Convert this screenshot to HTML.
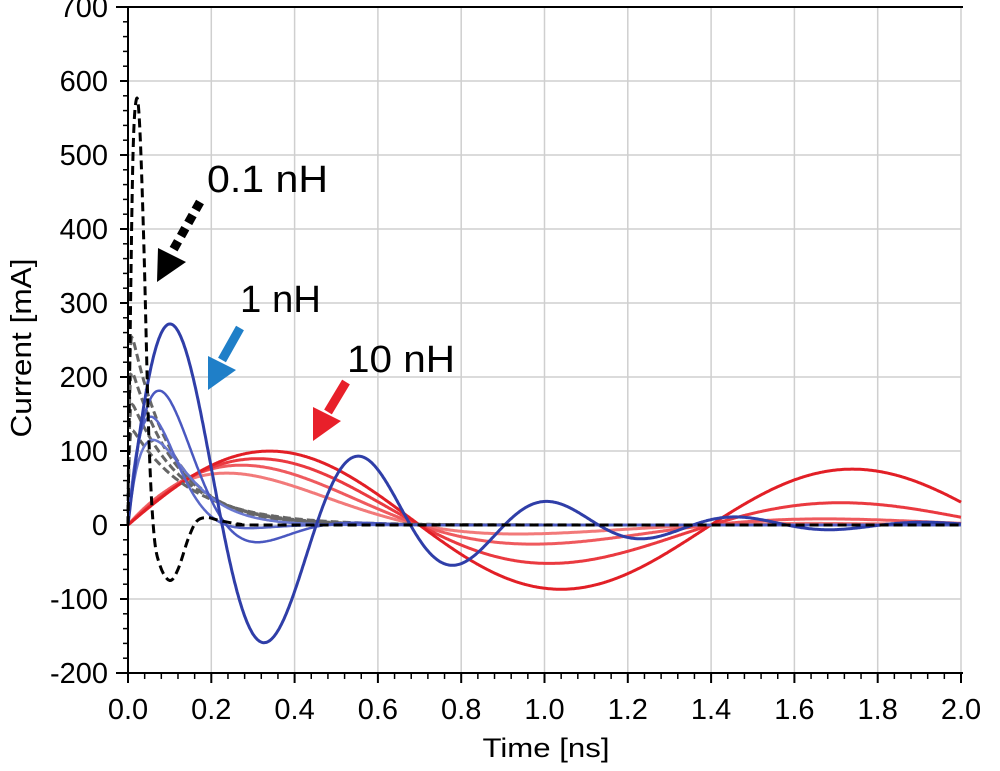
<!DOCTYPE html>
<html><head><meta charset="utf-8"><style>
html,body{margin:0;padding:0;background:#fff;}
svg{display:block;font-family:"Liberation Sans",Arial,sans-serif;}
</style></head><body>
<svg id="s" width="1000" height="771" viewBox="0 0 1000 771" xmlns="http://www.w3.org/2000/svg">
<g id="grid" stroke="#cfcfcf" stroke-width="1.5"></g>
<g id="curves" fill="none"></g>
<g id="axes" stroke="#000" stroke-width="2"></g>
<g id="labels" font-size="29" fill="#000"></g>
<text x="546" y="757" font-size="27" text-anchor="middle" textLength="127" lengthAdjust="spacingAndGlyphs">Time [ns]</text>
<text transform="translate(31,348) rotate(-90)" font-size="29" text-anchor="middle" textLength="179" lengthAdjust="spacingAndGlyphs">Current [mA]</text>
<text x="207" y="192" font-size="38" textLength="121" lengthAdjust="spacingAndGlyphs">0.1 nH</text>
<text x="240" y="312" font-size="38" textLength="81" lengthAdjust="spacingAndGlyphs">1 nH</text>
<text x="347" y="372" font-size="38" textLength="108" lengthAdjust="spacingAndGlyphs">10 nH</text>
<line x1="200" y1="202" x2="172" y2="252" stroke="#000" stroke-width="9" stroke-dasharray="9,6"/>
<polygon points="157,282 158,248 186,262" fill="#000"/>
<line x1="240" y1="328" x2="222" y2="360" stroke="#1f7fc8" stroke-width="9"/>
<polygon points="208,390 208,356 236,370" fill="#1f7fc8"/>
<line x1="346" y1="382" x2="328" y2="412" stroke="#e8202a" stroke-width="9"/>
<polygon points="313,441 313,407 341,421" fill="#e8202a"/>
</svg>
<script>
const NS="http://www.w3.org/2000/svg";
const X0=128,XS=416.5,Y0=525,YS=0.74;
const X=t=>X0+t*XS, Y=v=>Y0-v*YS;
function el(p,tag,a){const e=document.createElementNS(NS,tag);for(const k in a)e.setAttribute(k,a[k]);p.appendChild(e);return e;}
const grid=document.getElementById('grid'),axes=document.getElementById('axes'),lab=document.getElementById('labels'),cur=document.getElementById('curves');
for(let i=1;i<=10;i++){el(grid,'line',{x1:X(i*0.2),x2:X(i*0.2),y1:Y(700),y2:Y(-200)});}
for(let v=-100;v<=600;v+=100){el(grid,'line',{x1:X0,x2:X(2),y1:Y(v),y2:Y(v)});}
el(axes,'line',{x1:X0,x2:X0,y1:Y(700)-1,y2:Y(-200)+1});
el(axes,'line',{x1:X0-12,x2:X(2)+2,y1:Y(700),y2:Y(700)});
el(axes,'line',{x1:X0-12,x2:X(2)+2,y1:Y(-200),y2:Y(-200)});
for(let v=-200;v<=700;v+=20){const maj=v%100==0;el(axes,'line',{x1:X0-(maj?8:5),x2:X0,y1:Y(v),y2:Y(v),'stroke-width':maj?2:1.5});}
for(let i=0;i<=50;i++){const t=i*0.04;const maj=i%5==0;el(axes,'line',{x1:X(t),x2:X(t),y1:Y(-200),y2:Y(-200)+(maj?10:6),'stroke-width':maj?2:1.5});}
for(let v=-200;v<=700;v+=100){const e=el(lab,'text',{x:X0-20,y:Y(v)+10,'text-anchor':'end'});e.textContent=v;}
for(let i=0;i<=10;i++){const e=el(lab,'text',{x:X(i*0.2),y:719,'text-anchor':'middle'});e.textContent=(i*0.2).toFixed(1);}
function plot(f,col,w,dash,tmax){let d='';for(let i=0;i<=1000;i++){const t=(tmax||2)*i/1000;d+=(i?'L':'M')+X(t).toFixed(1)+','+Y(f(t)).toFixed(1);}
 const a={d:d,stroke:col,'stroke-width':w};if(dash)a['stroke-dasharray']=dash;el(cur,'path',a);}
const ds=(A,a,w)=>t=>A*Math.exp(-a*t)*Math.sin(w*t);
[[145,2.5,'#f27a7a'],[134,1.63,'#ef5a5e'],[116,0.78,'#ea3a40'],[107,0.2,'#e21f26']].forEach(p=>plot(ds(p[0],p[1],4.49),p[2],3));
[[140,7],[180,8],[230,9],[285,10]].forEach(p=>plot(t=>p[0]*(Math.exp(-p[1]*t)-Math.exp(-400*t)),'#666',3,'8,4'));
plot(t=>115*(t/0.06)*Math.exp(1-t/0.06),'#6a78d0',2.5);
plot(ds(500,15,13.3),'#5a68c8',2.5);
plot(ds(415,8.7,13.3),'#4a58c0',2.5);
plot(ds(350,2.37,13.9),'#2f3ea8',3);
const P=[[0,0],[0.005,250],[0.012,500],[0.02,575],[0.028,540],[0.038,380],[0.05,120],[0.062,-10],[0.077,-55],[0.1,-75],[0.12,-60],[0.145,-18],[0.165,5],[0.19,10],[0.22,6],[0.27,1],[0.32,0],[1,0],[2,0]];
let d='M'+X(0)+','+Y(0);
for(let i=0;i<P.length-1;i++){const p0=P[Math.max(0,i-1)],p1=P[i],p2=P[i+1],p3=P[Math.min(P.length-1,i+2)];
 if(i>=16){d+='L'+X(p2[0])+','+Y(p2[1]);continue;}
 const c1=[p1[0]+(p2[0]-p0[0])/6,p1[1]+(p2[1]-p0[1])/6],c2=[p2[0]-(p3[0]-p1[0])/6,p2[1]-(p3[1]-p1[1])/6];
 d+='C'+X(c1[0])+','+Y(c1[1])+' '+X(c2[0])+','+Y(c2[1])+' '+X(p2[0])+','+Y(p2[1]);}
el(cur,'path',{d:d,stroke:'#000','stroke-width':3,'stroke-dasharray':'9,5'});
</script>
</body></html>
